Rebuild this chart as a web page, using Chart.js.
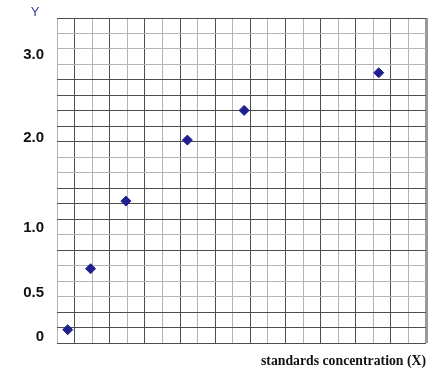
<!DOCTYPE html>
<html>
<head>
<meta charset="utf-8">
<script src="https://cdn.jsdelivr.net/npm/chart.js@4/dist/chart.umd.min.js"></script>
<style>
    html, body { margin: 0; padding: 0; background: #fff; }
    #wrap { width: 432px; height: 370px; position: relative; }
</style>
</head>
<body>
<div id="wrap"><canvas id="myChart"></canvas></div>
<script>
// values are in grid squares (the graph paper has 21 x 21 squares)
const xValues = [0.61, 1.91, 3.92, 7.42, 10.65, 18.31];
const yValues = [0.86, 4.80, 9.17, 13.11, 15.03, 17.46];

// y labels sit between the grid lines on the original
const yTickLabels = ['0', '0.5', '1.0', '2.0', '3.0'];
const yTickRows = [0.37, 3.26, 7.43, 13.26, 18.64];

const gridCols = 21;
const gridRows = 21;
// rows (counted from the bottom) drawn with the darker pen
const darkRows = [0, 1, 2, 6, 8, 9, 10, 13, 14, 15, 16, 17, 21];

const darkLine = '#4d4d4d';
const lightLine = '#b4b4b4';

function gridTicks(count) {
    const ticks = [];
    for (let i = 0; i <= count; i++) ticks.push({ value: i });
    return ticks;
}

const yLetter = {
    id: 'yLetter',
    afterDraw(chart) {
        const { ctx, chartArea } = chart;
        ctx.save();
        ctx.font = '13px "Liberation Sans", Arial, sans-serif';
        ctx.fillStyle = '#3d3d9e';
        ctx.textAlign = 'center';
        ctx.textBaseline = 'middle';
        ctx.fillText('Y', chartArea.left - 22, chartArea.top - 6);
        ctx.restore();
    }
};

const ctx = document.getElementById('myChart');

new Chart(ctx, {
    type: 'scatter',
    data: {
        datasets: [{
            data: xValues.map((x, i) => ({ x: x, y: yValues[i] })),
            pointStyle: 'rectRot',
            pointRadius: 5,
            pointBackgroundColor: '#1f1f8f',
            pointBorderColor: '#1f1f8f',
            pointBorderWidth: 1
        }]
    },
    options: {
        responsive: true,
        maintainAspectRatio: false,
        animation: false,
        layout: {
            padding: { top: 18, right: 5, left: 0, bottom: 0 }
        },
        plugins: {
            legend: { display: false },
            tooltip: { enabled: false }
        },
        scales: {
            x: {
                type: 'linear',
                min: 0,
                max: gridCols,
                afterBuildTicks: scale => { scale.ticks = gridTicks(gridCols); },
                afterFit: scale => { scale.height = 27; },
                border: { display: false },
                ticks: { display: false },
                grid: {
                    drawTicks: false,
                    color: c => {
                        const v = c.tick.value;
                        if (v === gridCols) return '#9a9a9a';
                        return v % 2 === 1 ? darkLine : lightLine;
                    },
                    lineWidth: c => c.tick.value === gridCols ? 3 : 1
                },
                title: {
                    display: true,
                    text: 'standards concentration (X)',
                    align: 'end',
                    color: '#111',
                    font: { family: '"Liberation Serif", "Times New Roman", serif', size: 13.75, weight: 'bold' },
                    padding: { top: 0, bottom: 0 }
                }
            },
            y: {
                type: 'linear',
                min: 0,
                max: gridRows,
                afterBuildTicks: scale => {
                    const ticks = gridTicks(gridRows).concat(yTickRows.map(v => ({ value: v })));
                    ticks.sort((a, b) => a.value - b.value);
                    scale.ticks = ticks;
                },
                afterFit: scale => {
                    scale.width = 57;
                    // tick padding would otherwise push the plot down
                    scale.paddingTop = 0;
                    scale.paddingBottom = 0;
                },
                border: { display: false },
                ticks: {
                    autoSkip: false,
                    padding: 13,
                    color: '#111',
                    font: { family: '"Liberation Sans", Arial, sans-serif', size: 15, weight: 'bold' },
                    callback: value => {
                        const i = yTickRows.indexOf(value);
                        return i >= 0 ? yTickLabels[i] : '';
                    }
                },
                grid: {
                    drawTicks: false,
                    color: c => {
                        const v = c.tick.value;
                        if (!Number.isInteger(v)) return 'rgba(0,0,0,0)';
                        return darkRows.includes(v) ? darkLine : lightLine;
                    }
                }
            }
        }
    },
    plugins: [yLetter]
});
</script>
</body>
</html>
